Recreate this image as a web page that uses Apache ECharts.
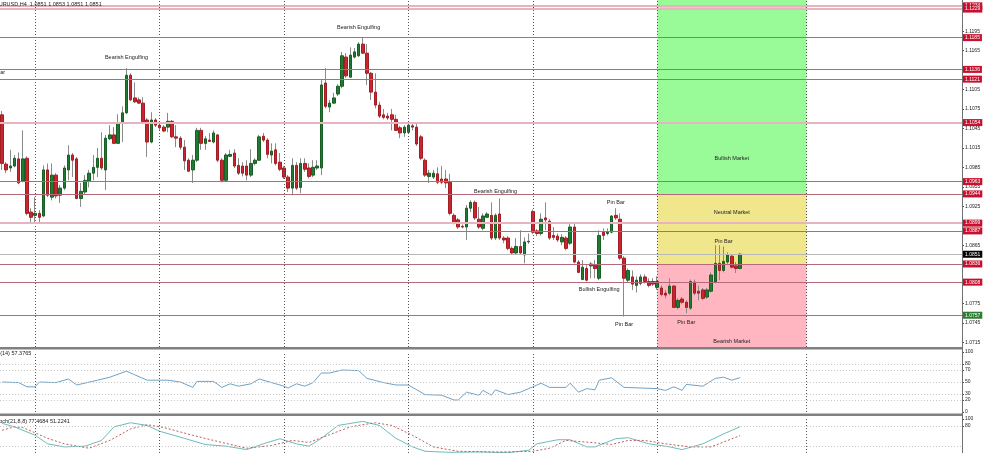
<!DOCTYPE html>
<html>
<head>
<meta charset="utf-8">
<script src="https://cdn.jsdelivr.net/npm/echarts@6/dist/echarts.min.js"></script>
<style>
  html, body { margin: 0; padding: 0; background: #fff; }
  #main { width: 984px; height: 453px; }
</style>
</head>
<body>
<div id="main"></div>
<script>
// EURUSD H4 bars
const open = [
  1.1066, 1.0990, 1.0984, 1.0987, 1.0998, 1.0964, 1.0999, 1.0916, 1.0911, 1.0914,
  1.0910, 1.0981, 1.0939, 1.0973, 1.0942, 1.0953, 1.0981, 1.1004, 1.0998, 1.0937,
  1.0947, 1.0964, 1.0976, 1.0985, 1.0999, 1.0981, 1.1029, 1.1035, 1.1022, 1.1053,
  1.1069, 1.1127, 1.1092, 1.1089, 1.1084, 1.1058, 1.1024, 1.1058, 1.1050, 1.1047,
  1.1047, 1.1056, 1.1032, 1.1030, 1.1016, 1.0996, 1.0981, 1.0996, 1.1042, 1.1022,
  1.1027, 1.1024, 1.1035, 1.0996, 1.0965, 1.1002, 1.1007, 1.0988, 1.0987, 1.0987,
  1.0973, 1.0991, 1.0996, 1.1033, 1.1027, 1.1004, 1.1012, 1.0993, 1.0984, 1.0970,
  1.0953, 1.0988, 1.0954, 1.0991, 1.0984, 1.0973, 1.0984, 1.0984, 1.1115, 1.1078,
  1.1084, 1.1098, 1.1110, 1.1155, 1.1124, 1.1155, 1.1157, 1.1175, 1.1161, 1.1130,
  1.1101, 1.1081, 1.1066, 1.1064, 1.1066, 1.1059, 1.1046, 1.1038, 1.1039, 1.1049,
  1.1047, 1.1032, 1.0996, 1.0971, 1.0970, 1.0975, 1.0967, 1.0967, 1.0962, 1.0911,
  1.0904, 1.0894, 1.0893, 1.0922, 1.0931, 1.0905, 1.0891, 1.0908, 1.0911, 1.0876,
  1.0913, 1.0876, 1.0876, 1.0860, 1.0853, 1.0863, 1.0850, 1.0870, 1.0917, 1.0887,
  1.0883, 1.0907, 1.0902, 1.0880, 1.0879, 1.0870, 1.0876, 1.0868, 1.0893, 1.0839,
  1.0812, 1.0829, 1.0833, 1.0834, 1.0814, 1.0885, 1.0883, 1.0885, 1.0911, 1.0905,
  1.0845, 1.0811, 1.0816, 1.0803, 1.0806, 1.0816, 1.0809, 1.0809, 1.0800, 1.0799,
  1.0791, 1.0791, 1.0802, 1.0769, 1.0782, 1.0777, 1.0768, 1.0808, 1.0794, 1.0796,
  1.0785, 1.0794, 1.0808, 1.0837, 1.0826, 1.0839, 1.0848, 1.0833, 1.0829
];
const close = [
  1.0991, 1.0981, 1.0987, 1.0999, 1.0961, 1.0998, 1.0914, 1.0908, 1.0914, 1.0908,
  1.0981, 1.0942, 1.0973, 1.0941, 1.0953, 1.0984, 1.1004, 1.0996, 1.0937, 1.0948,
  1.0965, 1.0976, 1.0985, 1.0999, 1.0984, 1.1030, 1.1035, 1.1022, 1.1053, 1.1069,
  1.1127, 1.1089, 1.1086, 1.1084, 1.1055, 1.1024, 1.1058, 1.1050, 1.1046, 1.1041,
  1.1056, 1.1032, 1.1030, 1.1016, 1.0995, 1.0979, 1.0996, 1.1042, 1.1022, 1.1029,
  1.1025, 1.1038, 1.0996, 1.0965, 1.1004, 1.1005, 1.0987, 1.0976, 1.0976, 1.0973,
  1.0991, 1.0996, 1.1032, 1.1027, 1.1005, 1.1010, 1.0991, 1.0982, 1.0970, 1.0953,
  1.0988, 1.0953, 1.0991, 1.0982, 1.0971, 1.0985, 1.0987, 1.1112, 1.1079, 1.1084,
  1.1092, 1.1110, 1.1157, 1.1126, 1.1158, 1.1163, 1.1175, 1.1161, 1.1130, 1.1101,
  1.1081, 1.1064, 1.1062, 1.1061, 1.1059, 1.1042, 1.1038, 1.1047, 1.1050, 1.1047,
  1.1021, 1.0999, 1.0973, 1.0976, 1.0976, 1.0962, 1.0962, 1.0961, 1.0914, 1.0900,
  1.0893, 1.0893, 1.0922, 1.0931, 1.0907, 1.0893, 1.0910, 1.0913, 1.0876, 1.0911,
  1.0876, 1.0873, 1.0860, 1.0853, 1.0863, 1.0853, 1.0870, 1.0871, 1.0885, 1.0883,
  1.0905, 1.0904, 1.0876, 1.0877, 1.0873, 1.0877, 1.0860, 1.0893, 1.0839, 1.0823,
  1.0831, 1.0811, 1.0836, 1.0829, 1.0880, 1.0880, 1.0885, 1.0910, 1.0907, 1.0845,
  1.0814, 1.0826, 1.0805, 1.0811, 1.0816, 1.0809, 1.0803, 1.0805, 1.0809, 1.0789,
  1.0788, 1.0802, 1.0769, 1.0780, 1.0777, 1.0769, 1.0809, 1.0791, 1.0791, 1.0783,
  1.0796, 1.0819, 1.0837, 1.0826, 1.0840, 1.0850, 1.0831, 1.0829, 1.0851
];
const low = [
  1.0981, 1.0976, 1.0978, 1.0985, 1.0959, 1.0962, 1.0911, 1.0900, 1.0899, 1.0899,
  1.0908, 1.0939, 1.0934, 1.0937, 1.0930, 1.0950, 1.0965, 1.0970, 1.0936, 1.0924,
  1.0944, 1.0954, 1.0965, 1.0970, 1.0981, 1.0950, 1.1027, 1.1021, 1.1021, 1.1024,
  1.1067, 1.1087, 1.1084, 1.1083, 1.1053, 1.1001, 1.1022, 1.1047, 1.1042, 1.1039,
  1.1039, 1.1030, 1.1016, 1.1012, 1.0981, 1.0978, 1.0961, 1.0993, 1.1012, 1.1012,
  1.1024, 1.1022, 1.0993, 1.0962, 1.0964, 1.1001, 1.0984, 1.0973, 1.0971, 1.0965,
  1.0970, 1.0988, 1.0995, 1.1024, 1.0999, 1.0991, 1.0988, 1.0979, 1.0967, 1.0947,
  1.0942, 1.0950, 1.0945, 1.0978, 1.0968, 1.0970, 1.0981, 1.0973, 1.1076, 1.1070,
  1.1083, 1.1095, 1.1107, 1.1123, 1.1123, 1.1153, 1.1155, 1.1160, 1.1112, 1.1089,
  1.1076, 1.1061, 1.1059, 1.1058, 1.1042, 1.1041, 1.1030, 1.1032, 1.1038, 1.1042,
  1.1018, 1.0996, 1.0970, 1.0961, 1.0967, 1.0959, 1.0959, 1.0953, 1.0911, 1.0897,
  1.0890, 1.0891, 1.0873, 1.0916, 1.0904, 1.0890, 1.0888, 1.0907, 1.0873, 1.0873,
  1.0873, 1.0868, 1.0857, 1.0850, 1.0850, 1.0850, 1.0837, 1.0867, 1.0882, 1.0879,
  1.0880, 1.0888, 1.0873, 1.0873, 1.0870, 1.0865, 1.0857, 1.0865, 1.0837, 1.0822,
  1.0811, 1.0809, 1.0814, 1.0814, 1.0811, 1.0873, 1.0880, 1.0883, 1.0904, 1.0842,
  1.0755, 1.0808, 1.0796, 1.0792, 1.0803, 1.0806, 1.0800, 1.0802, 1.0796, 1.0786,
  1.0783, 1.0788, 1.0768, 1.0766, 1.0774, 1.0760, 1.0765, 1.0788, 1.0780, 1.0780,
  1.0782, 1.0792, 1.0806, 1.0811, 1.0823, 1.0836, 1.0829, 1.0822, 1.0828
];
const high = [
  1.1072, 1.0993, 1.1012, 1.1004, 1.1008, 1.1042, 1.1002, 1.0922, 1.0939, 1.0919,
  1.0988, 1.0991, 1.0991, 1.0976, 1.0958, 1.0988, 1.1019, 1.1007, 1.1001, 1.0961,
  1.0973, 1.0981, 1.1004, 1.1015, 1.1039, 1.1035, 1.1050, 1.1047, 1.1067, 1.1079,
  1.1138, 1.1130, 1.1116, 1.1093, 1.1093, 1.1061, 1.1070, 1.1061, 1.1053, 1.1050,
  1.1069, 1.1058, 1.1050, 1.1033, 1.1027, 1.0999, 1.1004, 1.1046, 1.1046, 1.1033,
  1.1038, 1.1042, 1.1036, 1.0999, 1.1007, 1.1012, 1.1013, 1.0999, 1.0993, 1.0996,
  1.1013, 1.0999, 1.1035, 1.1038, 1.1030, 1.1022, 1.1022, 1.1007, 1.0987, 1.0973,
  1.0999, 1.0993, 1.0999, 1.0999, 1.0991, 1.0996, 1.0996, 1.1120, 1.1138, 1.1089,
  1.1100, 1.1113, 1.1163, 1.1161, 1.1170, 1.1169, 1.1178, 1.1186, 1.1175, 1.1132,
  1.1130, 1.1086, 1.1075, 1.1069, 1.1075, 1.1066, 1.1049, 1.1050, 1.1052, 1.1052,
  1.1052, 1.1035, 1.0999, 1.0981, 1.0981, 1.0985, 1.0987, 1.0981, 1.0975, 1.0914,
  1.0907, 1.0897, 1.0927, 1.0934, 1.0934, 1.0924, 1.0914, 1.0916, 1.0931, 1.0914,
  1.0937, 1.0879, 1.0879, 1.0863, 1.0876, 1.0888, 1.0877, 1.0883, 1.0920, 1.0890,
  1.0914, 1.0931, 1.0905, 1.0893, 1.0883, 1.0882, 1.0879, 1.0900, 1.0900, 1.0842,
  1.0842, 1.0834, 1.0839, 1.0842, 1.0888, 1.0891, 1.0891, 1.0911, 1.0922, 1.0914,
  1.0848, 1.0829, 1.0826, 1.0817, 1.0820, 1.0820, 1.0814, 1.0814, 1.0817, 1.0803,
  1.0796, 1.0814, 1.0803, 1.0783, 1.0785, 1.0780, 1.0812, 1.0812, 1.0803, 1.0799,
  1.0799, 1.0823, 1.0865, 1.0865, 1.0863, 1.0854, 1.0851, 1.0839, 1.0853
];

// indicator readings as [bar, value]
const rsi = [
  [0, 50], [4, 49], [6, 42], [8, 42], [9, 50], [13, 49], [16, 55], [18, 45], [23, 53], [26, 58],
  [30, 68], [32, 62], [35, 53], [40, 53], [43, 50], [46, 41], [47, 51], [51, 51], [53, 41], [55, 47],
  [57, 43], [60, 47], [62, 55], [65, 49], [68, 43], [69, 40], [71, 47], [73, 43], [75, 49], [77, 65],
  [79, 65], [82, 70], [86, 69], [88, 56], [92, 49], [95, 45], [98, 45], [102, 29], [106, 28], [109, 20],
  [110, 20], [112, 33], [115, 28], [116, 36], [118, 28], [119, 37], [122, 29], [125, 33], [128, 42], [130, 48],
  [132, 41], [136, 41], [137, 48], [139, 33], [141, 39], [143, 37], [144, 53], [147, 57], [150, 41], [154, 40],
  [158, 39], [160, 36], [162, 42], [164, 36], [165, 46], [169, 43], [172, 56], [174, 58], [176, 53], [178, 57.38]
];
const stochMain = [
  [0, 87], [3, 77], [8, 52], [11, 27], [15, 18], [20, 20], [24, 37], [27, 77], [31, 89], [35, 81],
  [38, 64], [44, 43], [49, 25], [54, 20], [59, 10], [63, 27], [67, 42], [71, 27], [74, 20], [77, 43],
  [81, 81], [87, 93], [91, 81], [95, 43], [99, 18], [102, 5], [108, 2], [115, 3], [122, 1], [127, 8],
  [129, 27], [134, 39], [137, 39], [141, 18], [143, 18], [148, 42], [151, 45], [156, 27], [161, 18], [164, 10],
  [169, 27], [174, 56], [178, 77.47]
];
const stochSignal = [
  [0, 67], [3, 77], [5, 75], [11, 43], [15, 27], [21, 14], [26, 37], [31, 71], [35, 83], [39, 75],
  [46, 52], [53, 31], [59, 14], [65, 22], [70, 37], [74, 31], [79, 54], [84, 77], [90, 89], [94, 81],
  [99, 52], [104, 18], [110, 5], [120, 3], [128, 5], [132, 14], [136, 37], [142, 31], [147, 25], [151, 37],
  [155, 37], [160, 27], [166, 18], [171, 18], [175, 37], [178, 51.22]
];

// horizontal levels and the market zones
const redLevels = [1.1234, 1.1229, 1.1185, 1.1136, 1.1121, 1.1054, 1.0963, 1.0944, 1.0899, 1.0887, 1.0836, 1.0808];
const lightLevels = [1.1234, 1.1229, 1.1054, 1.0899];
const currentPrice = 1.0851;
const greenLevel = 1.0757;
const zoneBars = [158, 194];
const zoneBounds = [1.0944, 1.0836];
const weekStarts = [8, 38, 68, 98, 128, 158, 194];

const priceTicks = [1.1195, 1.1165, 1.1105, 1.1075, 1.1045, 1.1015, 1.0985, 1.0955, 1.0925, 1.0865, 1.0775, 1.0745, 1.0715];
const rsiTicks = [0, 20, 30, 50, 70, 80, 100];
const rsiLevels = [20, 30, 50, 70, 80];
const stochTicks = [80, 100];
const stochLevels = [20, 80];

const patterns = [
  { name: 'Bearish Engulfing', coord: [30, 1.1155] },
  { name: 'Bearish Engulfing', coord: [86, 1.1201] },
  { name: 'Bearish Engulfing', coord: [119, 1.0948] },
  { name: 'Pin Bar', coord: [148, 1.0931] },
  { name: 'Bullish Engulfing', coord: [144, 1.0796] },
  { name: 'Pin Bar', coord: [150, 1.0743] },
  { name: 'Pin Bar', coord: [165, 1.0746] },
  { name: 'Pin Bar', coord: [174, 1.0871] },
  { name: 'Bullish Market', coord: [176, 1.0999] },
  { name: 'Neutral Market', coord: [176, 1.0916] },
  { name: 'Bearish Market', coord: [176, 1.0716] }
];

const barCount = 232;
const categories = Array.from({ length: barCount }, (_, i) => String(i));

const FONT = 'Liberation Sans';
const RED = '#c8102e';
const ROSE = '#b5697b';
const LIGHT = '#e6b3bf';

const chart = echarts.init(document.getElementById('main'));

const wickData = open.map((o, i) => [o, close[i], low[i], high[i]]);
const bodyData = open.map((o, i) => [o, close[i], Math.min(o, close[i]), Math.max(o, close[i])]);

function vLines() {
  return {
    silent: true, symbol: 'none', animation: false, precision: 4,
    label: { show: false },
    lineStyle: { color: '#555', type: [1, 2], width: 1 },
    data: weekStarts.map(b => ({ xAxis: String(b) }))
  };
}
function priceLabel(bg, fg) {
  return {
    show: true, position: 'end', distance: 1,
    formatter: p => Number(p.value).toFixed(4),
    backgroundColor: bg, color: fg, fontFamily: FONT, fontSize: 5,
    padding: [1, 2, 1, 2]
  };
}

const levelLines = redLevels.map(v => {
  const light = lightLevels.includes(v);
  return {
    yAxis: v,
    lineStyle: { color: light ? LIGHT : ROSE, width: light ? 2 : 1, type: 'solid' },
    label: priceLabel(RED, '#fff')
  };
});
levelLines.push({ yAxis: currentPrice, lineStyle: { color: '#b8b8b8', width: 1, type: 'solid' }, label: priceLabel('#000', '#fff') });
levelLines.push({ yAxis: greenLevel, lineStyle: { color: '#5a9e5a', width: 1, type: 'solid' }, label: priceLabel('#2e7d32', '#fff') });

const axisCommon = (gi) => ({
  type: 'category', gridIndex: gi, data: categories, boundaryGap: true,
  axisLine: { show: false }, axisTick: { show: false }, axisLabel: { show: false }, splitLine: { show: false }
});

chart.setOption({
  animation: false,
  backgroundColor: '#fff',
  grid: [
    { left: 0, right: 22, top: 0, height: 347 },
    { left: 0, right: 22, top: 352, height: 60 },
    { left: 0, right: 22, top: 419, height: 40 }
  ],
  xAxis: [axisCommon(0), axisCommon(1), axisCommon(2)],
  yAxis: [
    {
      gridIndex: 0, position: 'right', min: 1.0708, max: 1.1243, scale: true,
      axisLine: { show: false }, splitLine: { show: false },
      axisTick: { show: true, customValues: priceTicks, length: 2, lineStyle: { color: '#444' } },
      axisLabel: { customValues: priceTicks, formatter: v => v.toFixed(4), fontSize: 5, fontFamily: FONT, color: '#222', margin: 3 }
    },
    {
      gridIndex: 1, position: 'right', min: 0, max: 100,
      axisLine: { show: false }, splitLine: { show: false },
      axisTick: { show: true, customValues: rsiTicks, length: 2, lineStyle: { color: '#444' } },
      axisLabel: { customValues: rsiTicks, fontSize: 5, fontFamily: FONT, color: '#222', margin: 3 }
    },
    {
      gridIndex: 2, position: 'right', min: 0, max: 100,
      axisLine: { show: false }, splitLine: { show: false },
      axisTick: { show: true, customValues: stochTicks, length: 2, lineStyle: { color: '#444' } },
      axisLabel: { customValues: stochTicks, fontSize: 5, fontFamily: FONT, color: '#222', margin: 3 }
    }
  ],
  series: [
    {
      // market zones
      type: 'line', xAxisIndex: 0, yAxisIndex: 0, data: [], z: 1,
      markArea: {
        silent: true,
        data: [
          [{ xAxis: String(zoneBars[0]), yAxis: zoneBounds[0], itemStyle: { color: '#98fb98' } }, { xAxis: String(zoneBars[1]), yAxis: 1.1243 }],
          [{ xAxis: String(zoneBars[0]), yAxis: zoneBounds[1], itemStyle: { color: '#f0e68c' } }, { xAxis: String(zoneBars[1]), yAxis: zoneBounds[0] }],
          [{ xAxis: String(zoneBars[0]), yAxis: 1.0708, itemStyle: { color: '#ffb6c1' } }, { xAxis: String(zoneBars[1]), yAxis: zoneBounds[1] }]
        ]
      },
      markLine: vLines()
    },
    {
      // support / resistance lines
      type: 'line', xAxisIndex: 0, yAxisIndex: 0, data: [], z: 2,
      markLine: { silent: true, symbol: 'none', animation: false, precision: 4, data: levelLines }
    },
    {
      name: 'wicks', type: 'candlestick', xAxisIndex: 0, yAxisIndex: 0, z: 3,
      barWidth: 1, data: wickData,
      itemStyle: { color: '#8a8a8a', color0: '#8a8a8a', borderColor: '#8a8a8a', borderColor0: '#8a8a8a', borderWidth: 1 }
    },
    {
      name: 'EURUSD', type: 'candlestick', xAxisIndex: 0, yAxisIndex: 0, z: 4,
      barWidth: 3, data: bodyData,
      itemStyle: { color: '#217a32', color0: '#c6262e', borderColor: '#175f25', borderColor0: '#a51d24', borderWidth: 1 },
      markPoint: {
        silent: true, symbol: 'rect', symbolSize: 0, animation: false,
        label: { show: true, formatter: p => p.name, fontSize: 5.5, fontFamily: FONT, color: '#222' },
        data: patterns
      }
    },
    {
      name: 'RSI', type: 'line', xAxisIndex: 1, yAxisIndex: 1, data: rsi, showSymbol: false,
      lineStyle: { color: '#6fa3c9', width: 1 },
      markLine: {
        silent: true, symbol: 'none', animation: false, precision: 4, label: { show: false },
        data: rsiLevels.map(v => ({ yAxis: v, lineStyle: { color: '#c8c8c8', type: [1, 2], width: 1 } }))
          .concat(weekStarts.map(b => ({ xAxis: String(b), lineStyle: { color: '#555', type: [1, 2], width: 1 } })))
      }
    },
    {
      name: 'Stoch main', type: 'line', xAxisIndex: 2, yAxisIndex: 2, data: stochMain, showSymbol: false,
      lineStyle: { color: '#6cbcbc', width: 1 },
      markLine: {
        silent: true, symbol: 'none', animation: false, precision: 4, label: { show: false },
        data: stochLevels.map(v => ({ yAxis: v, lineStyle: { color: '#c8c8c8', type: [1, 2], width: 1 } }))
          .concat(weekStarts.map(b => ({ xAxis: String(b), lineStyle: { color: '#555', type: [1, 2], width: 1 } })))
      }
    },
    {
      name: 'Stoch signal', type: 'line', xAxisIndex: 2, yAxisIndex: 2, data: stochSignal, showSymbol: false,
      lineStyle: { color: '#c05a5a', width: 1, type: [2, 2] }
    }
  ],
  graphic: [
    { type: 'rect', shape: { x: 0, y: 347, width: 962, height: 2.5 }, style: { fill: '#808080' }, z: 10 },
    { type: 'rect', shape: { x: 0, y: 413.5, width: 962, height: 2.5 }, style: { fill: '#808080' }, z: 10 },
    { type: 'line', shape: { x1: 962.5, y1: 0, x2: 962.5, y2: 453 }, style: { stroke: '#707070', lineWidth: 1 }, z: 10 },
    { type: 'text', left: -5, top: 1, z: 10, style: { text: 'EURUSD,H4  1.0851 1.0853 1.0851 1.0851', fontSize: 5.5, fontFamily: FONT, fill: '#222' } },
    { type: 'text', left: -9, top: 350, z: 10, style: { text: 'RSI(14) 57.3765', fontSize: 5.5, fontFamily: FONT, fill: '#222' } },
    { type: 'text', left: -6, top: 418, z: 10, style: { text: 'Stoch(21,8,8) 77.4684 51.2241', fontSize: 5.5, fontFamily: FONT, fill: '#222' } },
    { type: 'text', left: -13, top: 69, z: 10, style: { text: 'Pin Bar', fontSize: 5.5, fontFamily: FONT, fill: '#222' } }
  ]
});
</script>
</body>
</html>
